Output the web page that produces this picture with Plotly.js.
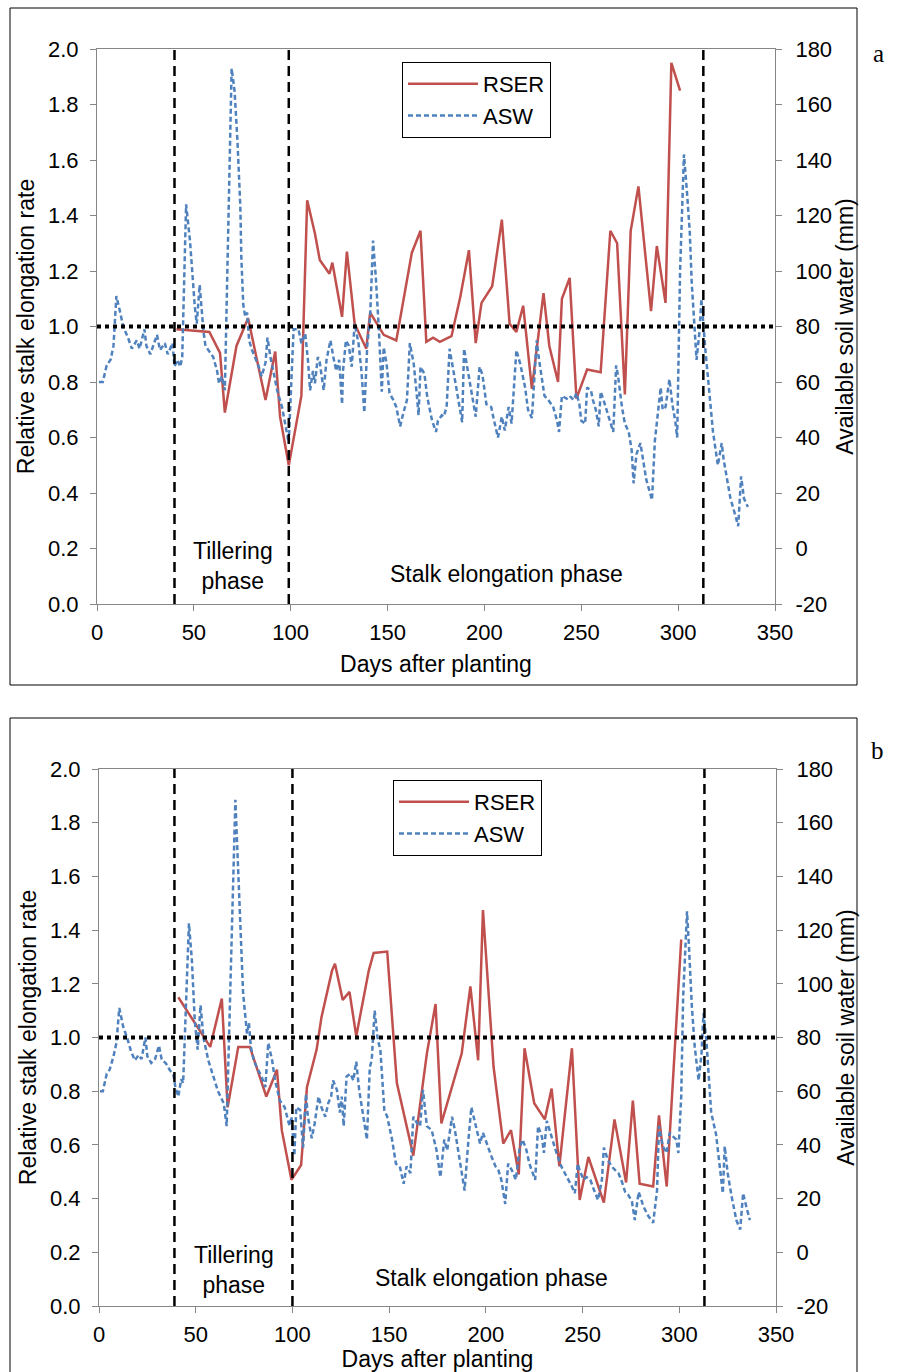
<!DOCTYPE html>
<html><head><meta charset="utf-8">
<script src="https://cdn.plot.ly/plotly-3.0.1.min.js"></script>
<style>html,body{margin:0;padding:0;background:#fff}#chart{width:898px;height:1372px}</style>
</head><body><div id="chart"></div>
<script>
// ---------- Panel a ----------
var daysRserA = [41,58,63.5,66,72,78,87,92,94.5,99, 105.5,108.5,112.5,115,120,121.5,126.5,129,133,139,
  141,146,148,154.5,162.5,167,170,173.5,177,183, 187.5,192,195.5,198.5,204,209,213,216.5,220,224.5,
  230.5,233.5,238,240,244,247.5,253,260,265,268.5, 272.5,275.5,279.5,286,289,293.5,296.5,301];
var rserA = [0.99,0.98,0.905,0.69,0.93,1.03,0.735,0.91,0.675,0.50, 0.75,1.455,1.335,1.24,1.19,1.23,1.035,1.27,1.01,0.92,
  1.05,0.99,0.97,0.95,1.265,1.345,0.945,0.96,0.945,0.965, 1.105,1.275,0.94,1.085,1.145,1.385,1.01,0.98,1.075,0.775,
  1.12,0.93,0.80,1.10,1.175,0.74,0.845,0.835,1.345,1.30, 0.755,1.345,1.505,1.055,1.29,1.085,1.95,1.85];

var daysAswA = [1,3,5,7,8.5,10,12,13.5,16,18, 20.5,22,24.5,25.5,27.5,29,31,32.5,35,36.5,
  39,40,41.5,43,44,46,48,50.5,51.5,53, 55,56,58,60,62,63,64.5,66,69.5,71,
  72.5,74,74.5,75.5,76.5,77.5,78.5,80,81.5,83.5, 85,87,88,89.5,91,93,95.5,97,99,100,
  101.5,104,105.5,107.5,109,110,111.5,112.5,114,115, 117,118.5,120.5,122,123.5,125,126.5,127,128.5,130,
  131.5,133,135,136.5,138,139.5,141,142.5,144,145.5, 147,148,149.5,151,153,154.5,156.5,158,160,161.5,
  163.5,165,166,167,169,170.5,173,175,176,178, 179,180.5,182,184,186.5,188.5,189.5,191,193.5,195.5,
  197.5,199,201,203.5,205,207,209,210.5,212.5,214, 216.5,218.5,221,222.5,224.5,227,228,229.5,231,233,
  235.5,237.5,238.5,240,242.5,244,246,247.5,249,250, 252,253,255,256,257.5,259,260,261.5,263.5,265,
  266.5,268,269,271,272.5,274.5,276,277,278.5,280.5, 282,283.5,285.5,286.5,288,290,291,292,293.5,295.5,
  297,298.5,299.5,301,303,304.5,306,307,309.5,311, 312,314,316.5,318,320.5,322.5,323.5,325.5,327,329.5,
  331,332.5,334,336];
var aswA = [60,60,66,68,73,91,85,80,76,72, 75,72,79,73,70,73,77,71.5,74,70,
  74,65.5,68,65.5,69,124,111,87,81,95, 78,73,71,69,64,59.5,62,57,173,165,
  147,123,105,88,83.5,85,75,71.5,69,65.5, 62,67,76,69,64,57,51,45,38,55,
  79,79,74,77.5,67,57,64,59.5,69,67, 57,68,75,69,64,68,52,64,75,73,
  65.5,81,74,64,49,73,83.5,111,97,79, 56.5,72.5,66.5,56,53.5,51,44,48.5,53.5,74,
  66.5,56,48,65.5,63,54.5,46,42,46,48, 47.5,51,72,64,53.5,45.5,72,65.5,54.5,47.5,
  65.5,62.5,52,51,46,40,47.5,42.5,51,45, 71.5,66.5,58,50,47,75,69,61,55,53.5,
  51,46,42,55,54,55,53.5,56,52,46, 45,58,57,53.5,50,44,56.5,53.5,48.5,45,
  42,66,62,51,45,42,35.5,23.5,34,38, 32,25,20,17.5,39,53.5,58,50,51,61,
  52,46,40,100,142,129,114,96,68,78, 90,72,53,42,30,38,32,24,18,12,
  8,26,18,15];

// ---------- Panel b ----------
var daysRserB = [41,57.5,63.5,66.5,72,78,86.5,92,94.5,99.5, 104.5,107.5,112.5,115,120.5,122,126,129.5,133,139.5,
  142,149,154,162.5,169.5,174,177,187.5,192,196, 198.5,204,209,213,217,220,225,230.5,234,238,
  244.5,248.5,253,261,266.5,272.5,276,279.5,286.5,289.5, 293.5,301];
var rserB = [1.15,0.965,1.145,0.74,0.965,0.965,0.78,0.88,0.655,0.47, 0.525,0.815,0.955,1.075,1.25,1.275,1.14,1.17,1.005,1.25,
  1.315,1.32,0.83,0.56,0.94,1.125,0.68,0.94,1.19,0.915, 1.475,0.89,0.605,0.655,0.49,0.96,0.755,0.695,0.81,0.52,
  0.96,0.395,0.555,0.385,0.695,0.46,0.765,0.455,0.445,0.71, 0.445,1.365];

var daysAswB = [0.5,2,4,5.5,7.5,9,10.5,12.5,14.5,16.5, 18.5,20.5,22,24,25,27,29,31,32.5,34.5,
  36.5,38.5,39.5,41,42.5,43.5,46.5,48,49.5,51, 52.5,54,56.5,59,61.5,64.5,66,70.5,71.5,73,
  74.5,76.5,77.5,78.5,80,81.5,84,86,87.5,89.5, 91,93.5,96,98.5,99.5,101,102,104,105.5,107,
  108,110,111.5,113.5,115,117,118.5,120,121,123, 124.5,125.5,126.5,128,130,131.5,133,134.5,136.5,138.5,
  140,141,142.5,144,145.5,147.5,149,151.5,153.5,155.5, 157.5,159,161,162.5,164.5,166,167.5,169.5,172,174.5,
  176.5,178.5,180,182.5,184,186.5,189,191,192.5,194.5, 197,198.5,201.5,203,205,206.5,208,210,211.5,213.5,
  215.5,217.5,219,221,222.5,225.5,227,229,230,231.5, 234,236.5,239,242,244.5,246,247.5,248.5,250.5,252,
  254,256,258,260,261,263,265,267,268.5,270, 272,273.5,275.5,277,279,281.5,284,286.5,288.5,289.5,
  291.5,293.5,295,297,298.5,299.5,301,302,304,305, 306.5,308,310,311.5,312.5,314,316.5,319,321,322.5,
  323.5,325,327,329.5,331.5,333,335,336.5];
var aswB = [60,60,66.5,68,73,78,91,84,80,75, 71.5,73.5,72,80,73,70.5,72,77,71.5,70.5,
  68,66,61.5,58,64.5,63,122.5,109,86.5,75.5, 92,80,71.5,65.5,60,55.5,47,168.5,152,121,
  96.5,81.5,85.5,76.5,71.5,69,65.5,61.5,78,71.5, 64,56.5,54,47,50.5,36,54,53,39,59,
  50.5,42.5,48,58,54,50.5,55.5,58,64,60.5, 52,58,47,65.5,66.5,64,71,60.5,52,42,
  69,71.5,90,80,75,53,50.5,42,33,32, 25.5,32,29.5,50.5,48,47,60.5,47,45.5,38,
  28,42,38,50.5,45.5,34.5,23,42,54,48, 40.5,44.5,38,35.5,32,30.5,27,18,33,30.5,
  27,39,42,38,33,27,47,43,37,49, 43,37,32,28,24.5,22,33,30.5,27,28,
  27,23,19.5,27,39,34.5,32,30.5,29.5,27, 22.5,21.5,19,12,22.5,17,13.5,11,23,47,
  39.5,37,44.5,43,42,37,58,95,127,114, 91.5,76.5,64,74,89,79,52,44,32,22,
  39.5,29.5,21,12,8.5,22,16,12];

// ---------- reference lines & ticks ----------
var phaseDaysA = [40, 99, 313];
var phaseDaysB = [39, 100, 313];
var refRate = 1.0;
var xTickVals = [0,50,100,150,200,250,300,350];
var leftTickVals = [0,0.2,0.4,0.6,0.8,1.0,1.2,1.4,1.6,1.8,2.0];
var rightTickVals = [-20,0,20,40,60,80,100,120,140,160,180];
var rightTickText = ['-20','0','20','40','60','80','100','120','140','160','180'];
var seriesNames = ['RSER', 'ASW'];
var phaseLabels = ['Tillering<br>phase', 'Stalk elongation phase'];
var panelLabels = ['a', 'b'];

var RED = '#C0504D', BLUE = '#4F81BD', AXC = '#868686';
var FONT = 'Liberation Sans, Arial, sans-serif';
var FS = 23, TFS = 22;

function rser(x, y, xa, ya, lg) {
  return {x: x, y: y, xaxis: xa, yaxis: ya, type: 'scatter', mode: 'lines', name: seriesNames[0],
    legend: lg, legendgroup: 'r' + lg, line: {color: RED, width: 2.5}};
}
function asw(x, y, xa, ya, lg) {
  return {x: x, y: y, xaxis: xa, yaxis: ya, type: 'scatter', mode: 'lines', name: seriesNames[1],
    legend: lg, legendgroup: 'a' + lg, line: {color: BLUE, width: 2.5, dash: '5px,3px'}};
}
var data = [
  rser(daysRserA, rserA, 'x', 'y', 'legend'),
  asw(daysAswA, aswA, 'x', 'y2', 'legend'),
  rser(daysRserB, rserB, 'x2', 'y3', 'legend2'),
  asw(daysAswB, aswB, 'x2', 'y4', 'legend2')
];

function xAxis(domain, anchor) {
  return {domain: domain, anchor: anchor, range: [0, 350], tickvals: xTickVals,
    showgrid: false, zeroline: false, showline: true, linecolor: AXC, linewidth: 1, mirror: true,
    ticks: 'outside', ticklen: 6, tickcolor: AXC, ticklabelstandoff: 3,
    tickfont: {family: FONT, size: TFS, color: '#000'},
    title: {text: 'Days after planting', font: {family: FONT, size: FS, color: '#000'}, standoff: 11}};
}
function yLeft(domain, anchor) {
  return {domain: domain, anchor: anchor, range: [0, 2], tickvals: leftTickVals, tickformat: '.1f',
    showgrid: false, zeroline: false, showline: true, linecolor: AXC, linewidth: 1,
    ticks: 'outside', ticklen: 6, tickcolor: AXC, ticklabelstandoff: 7,
    tickfont: {family: FONT, size: TFS, color: '#000'},
    title: {text: 'Relative stalk elongation rate', font: {family: FONT, size: FS, color: '#000'}, standoff: 6}};
}
function yRight(over, anchor) {
  return {overlaying: over, anchor: anchor, side: 'right', range: [-20, 180], tickvals: rightTickVals,
    ticktext: rightTickText, showgrid: false, zeroline: false, showline: true, linecolor: AXC, linewidth: 1,
    ticks: 'outside', ticklen: 6, tickcolor: AXC, ticklabelstandoff: 9,
    tickfont: {family: FONT, size: TFS, color: '#000'},
    title: {text: 'Available soil water (mm)', font: {family: FONT, size: FS, color: '#000'}, standoff: 0}};
}

var shapes = [];
function frame(y0, y1) {
  shapes.push({type: 'rect', xref: 'paper', yref: 'paper', x0: 10/898, x1: 857/898, y0: y0, y1: y1,
    line: {color: '#000', width: 1}, layer: 'below'});
}
frame(1 - 685/1372, 1 - 8/1372);
frame(-0.01, 1 - 718/1372);
function refLines(xa, ya, phases) {
  shapes.push({type: 'line', xref: xa, yref: ya, x0: 0, x1: 350, y0: refRate, y1: refRate,
    line: {color: '#000', width: 4, dash: '4px,4px'}});
  phases.forEach(function (d) {
    shapes.push({type: 'line', xref: xa, yref: ya, x0: d, x1: d, y0: 0, y1: 2,
      line: {color: '#000', width: 2.5, dash: '10px,6px'}});
  });
}
refLines('x', 'y', phaseDaysA);
refLines('x2', 'y3', phaseDaysB);

var annFont = {family: FONT, size: FS, color: '#000'};
var annotations = [
  {xref: 'x', yref: 'y', x: 70, y: 0.137, text: phaseLabels[0], showarrow: false, font: annFont},
  {xref: 'x', yref: 'y', x: 211.5, y: 0.108, text: phaseLabels[1], showarrow: false, font: annFont},
  {xref: 'x2', yref: 'y3', x: 70, y: 0.134, text: phaseLabels[0], showarrow: false, font: annFont},
  {xref: 'x2', yref: 'y3', x: 203, y: 0.104, text: phaseLabels[1], showarrow: false, font: annFont},
  {xref: 'paper', yref: 'paper', x: 886/898, y: 1 - 38/1372, text: panelLabels[0], showarrow: false,
    font: {family: 'Liberation Serif, Times New Roman, serif', size: 25, color: '#000'}},
  {xref: 'paper', yref: 'paper', x: 886/898, y: 1 - 750/1372, text: panelLabels[1], showarrow: false,
    font: {family: 'Liberation Serif, Times New Roman, serif', size: 25, color: '#000'}}
];

var legendStyle = function (x, y, w) {
  return {x: x, y: y, xanchor: 'left', yanchor: 'top', bgcolor: '#fff', bordercolor: '#000', borderwidth: 1,
    font: {family: FONT, size: 22, color: '#000'}, traceorder: 'grouped', tracegroupgap: 0, itemwidth: 70,
    entrywidthmode: 'pixels', entrywidth: w};
};

var layout = {
  width: 898, height: 1372, paper_bgcolor: '#fff', plot_bgcolor: 'rgba(0,0,0,0)',
  margin: {l: 0, r: 0, t: 0, b: 0},
  font: {family: FONT, size: FS, color: '#000'},
  xaxis: xAxis([97/898, 775/898], 'y'),
  yaxis: yLeft([1 - 604/1372, 1 - 49/1372], 'x'),
  yaxis2: yRight('y', 'x'),
  xaxis2: xAxis([99/898, 776/898], 'y3'),
  yaxis3: yLeft([1 - 1306/1372, 1 - 769/1372], 'x2'),
  yaxis4: yRight('y3', 'x2'),
  legend: legendStyle(402/898, 1 - 62/1372, 172),
  legend2: legendStyle(393/898, 1 - 780/1372, 170),
  shapes: shapes,
  annotations: annotations,
  showlegend: true
};

Plotly.newPlot('chart', data, layout, {staticPlot: true, displayModeBar: false});
</script></body></html>
